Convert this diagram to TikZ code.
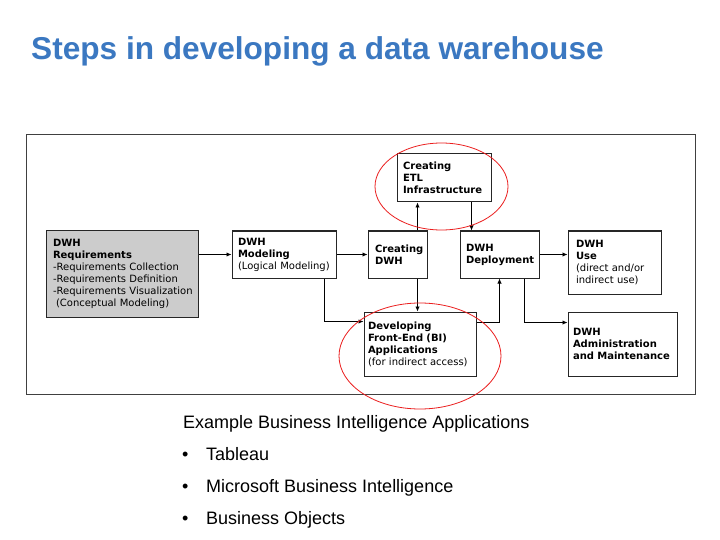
\documentclass[tikz,border=0pt]{standalone}
\usepackage{fontspec}
\setmainfont{Liberation Sans}
\newfontfamily\boxfont{DejaVu Sans}
\usetikzlibrary{arrows.meta}
\definecolor{titleblue}{RGB}{59,120,193}
\definecolor{reqgray}{RGB}{204,204,204}
\definecolor{ringred}{RGB}{235,30,30}
\hfuzz=30pt
\hbadness=10000
\begin{document}
\begin{tikzpicture}[x=1pt,y=-1pt,
  stepbox/.style={draw=black!85,line width=1pt,fill=white,inner xsep=6pt,inner ysep=0pt,
    align=left,font=\boxfont\fontsize{10}{12}\selectfont},
  arr/.style={draw=black,line width=0.9pt,-{Latex[length=5pt,width=4.5pt]}},
  ring/.style={draw=ringred,line width=0.8pt},
  bullettext/.style={anchor=base west,inner sep=0pt,font=\fontsize{18}{22}\selectfont}]
\useasboundingbox (0,0) rectangle (720,540);
\fill[white] (0,0) rectangle (720,540);

% title
\node[anchor=base west,inner sep=0pt,text=titleblue,font=\fontsize{31.6}{36}\selectfont\bfseries]
  (title) at (31,60) {Steps in developing a data warehouse};

% outer frame
\draw[black!75,line width=1pt] (26,135) rectangle (695,394);

% process boxes
\node[stepbox,fill=reqgray,inner xsep=7pt,minimum width=152pt,minimum height=86pt,text width=138pt] (req) at (122,274)
  {\textbf{DWH}\\\textbf{Requirements}\\\mbox{-Requirements Collection}\\\mbox{-Requirements Definition}\\\mbox{-Requirements Visualization}\\\mbox{\hspace*{3pt}(Conceptual Modeling)}};
\node[stepbox,minimum width=104pt,minimum height=47pt,text width=92pt] (model) at (284,254.5)
  {\textbf{DWH}\\\textbf{Modeling}\\(Logical Modeling)};
\node[stepbox,inner xsep=7pt,minimum width=59pt,minimum height=47pt,text width=45pt] (cdwh) at (397.5,254.5)
  {\textbf{Creating}\\\textbf{DWH}};
\node[stepbox,minimum width=94pt,minimum height=48pt,text width=82pt] (etl) at (444,178)
  {\textbf{Creating}\\\textbf{ETL}\\\textbf{Infrastructure}};
\node[stepbox,minimum width=79pt,minimum height=47pt,text width=67pt] (deploy) at (499.5,254.5)
  {\textbf{DWH}\\\textbf{Deployment}};
\node[stepbox,inner xsep=8pt,minimum width=93pt,minimum height=63pt,text width=77pt] (use) at (614.5,262.5)
  {\textbf{DWH}\\\textbf{Use}\\(direct and/or\\indirect use)};
\node[stepbox,inner xsep=5pt,minimum width=109pt,minimum height=64pt,text width=99pt] (admin) at (622.5,344)
  {\textbf{DWH}\\\textbf{Administration}\\\textbf{and Maintenance}};
\node[stepbox,inner xsep=4pt,minimum width=112pt,minimum height=64pt,text width=104pt] (fe) at (420,344)
  {\textbf{Developing}\\\textbf{Front-End (BI)}\\\textbf{Applications}\\(for indirect access)};

% connectors
\draw[arr] (req.east |- model.west) -- (model.west);
\draw[arr] (model.east) -- (model.east -| cdwh.west);
\draw[arr] ([xshift=-10pt]cdwh.north east) -- ([xshift=-10pt]cdwh.north east |- etl.south);
\draw[arr] ([xshift=12pt]deploy.north west |- etl.south) -- ([xshift=12pt]deploy.north west);
\draw[arr] ([xshift=-10pt]cdwh.south east) -- ([xshift=-10pt]cdwh.south east |- fe.north);
\draw[arr] ([xshift=-12pt]model.south east) |- ([yshift=-10pt]fe.north west);
\draw[arr] ([yshift=-11pt]fe.north east) -| (deploy.south);
\draw[arr] (deploy.east) -- (deploy.east -| use.west);
\draw[arr] ([xshift=-15pt]deploy.south east) |- ([yshift=-11pt]admin.north west);

% highlight rings
\draw[ring] (441.5,186.5) ellipse [x radius=66.5pt, y radius=43.5pt];
\draw[ring] (420,356) ellipse [x radius=81pt, y radius=53pt];

% example list
\node[bullettext] (ex) at (183,428) {Example Business Intelligence Applications};
\node[bullettext] (b1) at (182,460) {\textbullet};
\node[bullettext] (t1) at (206,460) {Tableau};
\node[bullettext] (b2) at (182,492) {\textbullet};
\node[bullettext] (t2) at (206,492) {Microsoft Business Intelligence};
\node[bullettext] (b3) at (182,524) {\textbullet};
\node[bullettext] (t3) at (206,524) {Business Objects};
\end{tikzpicture}
\end{document}
